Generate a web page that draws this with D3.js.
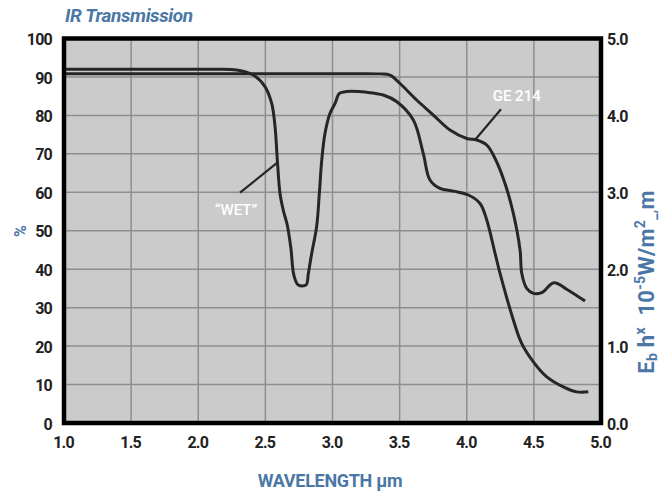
<!DOCTYPE html>
<html>
<head>
<meta charset="utf-8">
<script src="https://cdn.jsdelivr.net/npm/d3@7"></script>
<style>
  body { margin: 0; background: #fff; }
  svg text { font-family: Roboto, 'DejaVu Sans Condensed', sans-serif; font-weight: bold; }
</style>
</head>
<body>
<div id="chart"></div>
<script>
// "WET" curve, wavelength (um) and transmission (%)
var wetWavelength = [1.0, 1.7, 2.1, 2.286, 2.41, 2.497, 2.547, 2.572, 2.589, 2.609, 2.633, 2.663, 2.69, 2.712, 2.745, 2.803, 2.82, 2.845, 2.882, 2.902, 2.92, 2.944, 2.981, 3.019, 3.051, 3.106, 3.255, 3.378, 3.477, 3.602, 3.676, 3.726, 3.801, 3.9, 4.012, 4.099, 4.149, 4.211, 4.248, 4.347, 4.409, 4.496, 4.596, 4.719, 4.819, 4.905];
var wetPercent = [92.0, 92.0, 92.0, 91.8, 90.5, 87.5, 83.1, 77.1, 68.4, 59.7, 55.4, 51.5, 45.5, 38.5, 35.9, 35.9, 38.9, 44.1, 51.1, 59.7, 68.4, 75.3, 80.5, 83.1, 85.7, 86.2, 86.0, 85.3, 83.6, 78.8, 70.1, 63.2, 61.0, 60.3, 59.3, 57.1, 52.8, 44.1, 38.9, 26.8, 20.7, 15.9, 12.0, 9.4, 8.1, 8.1];

// "GE 214" curve
var geWavelength = [1.0, 2.0, 3.0, 3.354, 3.428, 3.503, 3.627, 3.751, 3.875, 4.0, 4.074, 4.149, 4.211, 4.285, 4.347, 4.397, 4.41, 4.447, 4.496, 4.558, 4.65, 4.744, 4.881];
var gePercent = [90.8, 90.8, 90.8, 90.8, 90.5, 88.3, 84.0, 80.1, 76.2, 74.0, 73.6, 72.3, 68.8, 62.3, 54.5, 45.0, 38.9, 35.0, 33.7, 33.9, 36.5, 34.8, 31.7];

var xTicks = [1.0, 1.5, 2.0, 2.5, 3.0, 3.5, 4.0, 4.5, 5.0];
var leftTicks = [0, 10, 20, 30, 40, 50, 60, 70, 80, 90, 100];
var rightTicks = [0, 1, 2, 3, 4, 5];

var svgWidth = 661;
var svgHeight = 495;

var blue = "#4a77a6";
var ink = "#262626";

var svg = d3.select("#chart")
  .append("svg")
  .attr("width", svgWidth)
  .attr("height", svgHeight);

var x = d3.scaleLinear().domain([1, 5]).range([64, 601]);
var y = d3.scaleLinear().domain([0, 100]).range([423, 38.5]);
var yRight = d3.scaleLinear().domain([0, 5]).range([423, 38.5]);

// plot background
svg.append("rect")
  .attr("x", x(1)).attr("y", y(100))
  .attr("width", x(5) - x(1)).attr("height", y(0) - y(100))
  .attr("fill", "#cbcbcb");

// grid
svg.append("g")
  .selectAll("line")
  .data(leftTicks.slice(1, -1))
  .enter().append("line")
  .attr("x1", x(1)).attr("x2", x(5))
  .attr("y1", d => y(d)).attr("y2", d => y(d))
  .attr("stroke", "#8e8e8e").attr("stroke-width", 1.5);

svg.append("g")
  .selectAll("line")
  .data(xTicks.slice(1, -1))
  .enter().append("line")
  .attr("x1", d => x(d)).attr("x2", d => x(d))
  .attr("y1", y(0)).attr("y2", y(100))
  .attr("stroke", "#8e8e8e").attr("stroke-width", 1.5);

// curves
var line = d3.line()
  .x(d => x(d[0]))
  .y(d => y(d[1]))
  .curve(d3.curveCatmullRom.alpha(0.5));

var wet = wetWavelength.map((w, i) => [w, wetPercent[i]]);
var ge = geWavelength.map((w, i) => [w, gePercent[i]]);

[wet, ge].forEach(function(s) {
  svg.append("path")
    .datum(s)
    .attr("d", line)
    .attr("fill", "none")
    .attr("stroke", ink)
    .attr("stroke-width", 3)
    .attr("stroke-linejoin", "round");
});

// leaders + labels
svg.append("line")
  .attr("x1", x(2.311)).attr("y1", y(59.9))
  .attr("x2", x(2.589)).attr("y2", y(67.7))
  .attr("stroke", ink).attr("stroke-width", 2.2);

svg.append("line")
  .attr("x1", x(4.255)).attr("y1", y(81.6))
  .attr("x2", x(4.061)).attr("y2", y(73.6))
  .attr("stroke", ink).attr("stroke-width", 2.2);

svg.append("text")
  .attr("x", x(2.281)).attr("y", y(54.1))
  .attr("text-anchor", "middle")
  .attr("fill", "#ffffff")
  .attr("font-size", 15)
  .style("font-weight", 500)
  .text("\u201CWET\u201D");

svg.append("text")
  .attr("x", x(4.372)).attr("y", y(83.8))
  .attr("text-anchor", "middle")
  .attr("fill", "#ffffff")
  .attr("font-size", 15)
  .style("font-weight", 500)
  .text("GE 214");

// frame
svg.append("rect")
  .attr("x", x(1)).attr("y", y(100))
  .attr("width", x(5) - x(1)).attr("height", y(0) - y(100))
  .attr("fill", "none")
  .attr("stroke", "#000")
  .attr("stroke-width", 4.5);

// axes
var bottomAxis = d3.axisBottom(x).tickValues(xTicks).tickSize(0).tickPadding(0).tickFormat(d3.format(".1f"));
var leftAxis = d3.axisLeft(y).tickValues(leftTicks).tickSize(0).tickPadding(0);
var rightAxis = d3.axisRight(yRight).tickValues(rightTicks).tickSize(0).tickPadding(0).tickFormat(d3.format(".1f"));

var gx = svg.append("g").attr("transform", "translate(-1, 437)").call(bottomAxis);
var gl = svg.append("g").attr("transform", "translate(52, 1)").call(leftAxis);
var gr = svg.append("g").attr("transform", "translate(607, 1)").call(rightAxis);

[gx, gl, gr].forEach(function(g) {
  g.select(".domain").remove();
  g.selectAll("text")
    .attr("font-size", 16)
    .attr("fill", "#222")
    .attr("letter-spacing", -0.8);
  g.attr("font-family", null).attr("font-size", null);
});

// titles
svg.append("text")
  .attr("x", 65).attr("y", 22)
  .attr("fill", blue)
  .attr("font-size", 19)
  .attr("font-style", "italic")
  .attr("letter-spacing", -0.4)
  .text("IR Transmission");

svg.append("text")
  .attr("transform", "translate(26, 231) rotate(-90)")
  .attr("text-anchor", "middle")
  .attr("fill", blue)
  .attr("font-size", 16)
  .text("%");

svg.append("text")
  .attr("x", 330).attr("y", 487)
  .attr("text-anchor", "middle")
  .attr("fill", blue)
  .attr("font-size", 18)
  .attr("letter-spacing", -0.3)
  .text("WAVELENGTH \u00B5m");

var rl = svg.append("text")
  .attr("transform", "translate(654, 282) rotate(-90)")
  .attr("text-anchor", "middle")
  .attr("fill", blue)
  .attr("font-size", 22)
  .attr("letter-spacing", 0.3);
rl.append("tspan").text("E");
rl.append("tspan").attr("font-size", 14).attr("dy", 3).text("b");
rl.append("tspan").attr("dy", -3).text(" h");
rl.append("tspan").attr("font-size", 14).attr("dy", -9).text("x");
rl.append("tspan").attr("dy", 9).text("\u00A0 10");
rl.append("tspan").attr("font-size", 14).attr("dy", -9).text("-5");
rl.append("tspan").attr("dy", 9).text("W/m");
rl.append("tspan").attr("font-size", 14).attr("dy", -9).text("2");
rl.append("tspan").attr("font-size", 14).attr("dy", 11).text("_,");
rl.append("tspan").attr("dy", -2).text("m");
</script>
</body>
</html>
